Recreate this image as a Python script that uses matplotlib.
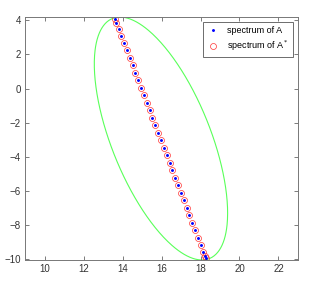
import numpy as np
import matplotlib
matplotlib.use("Agg")
import matplotlib.pyplot as plt

eig_re = [13.60, 13.68, 13.80, 13.93, 14.07, 14.22, 14.36, 14.51, 14.66, 14.80,
          14.95, 15.09, 15.24, 15.39, 15.53, 15.68, 15.83, 15.97, 16.12, 16.26,
          16.41, 16.56, 16.70, 16.85, 16.99, 17.14, 17.29, 17.43, 17.58, 17.72,
          17.87, 18.01, 18.14, 18.22, 18.27]
eig_im = [4.10, 3.85, 3.50, 3.10, 2.68, 2.24, 1.80, 1.36, 0.92, 0.48,
          0.04, -0.40, -0.84, -1.28, -1.72, -2.16, -2.60, -3.04, -3.48, -3.92,
          -4.36, -4.80, -5.24, -5.68, -6.12, -6.56, -7.00, -7.44, -7.88, -8.32,
          -8.76, -9.18, -9.56, -9.82, -9.96]

# green ellipse: centre and two conjugate half-axes
ell_center = (15.97, -2.93)
ell_u = (-2.10, 7.12)
ell_v = (2.70, 0.0)

xticks = [10, 12, 14, 16, 18, 20, 22]
yticks = [-10, -8, -6, -4, -2, 0, 2, 4]

plt.rcParams['font.family'] = ['Liberation Sans', 'DejaVu Sans']

fig = plt.figure(figsize=(3.18, 2.86), dpi=100)
ax = fig.add_axes([0.079, 0.091, 0.858, 0.850])

t = np.linspace(0, 2 * np.pi, 400)
ex = ell_center[0] + ell_u[0] * np.cos(t) + ell_v[0] * np.sin(t)
ey = ell_center[1] + ell_u[1] * np.cos(t) + ell_v[1] * np.sin(t)
ax.plot(ex, ey, color=(0.35, 1.0, 0.35), lw=0.8, zorder=1)

ax.plot(eig_re, eig_im, '.', color='blue', ms=2.2, label='spectrum of A', zorder=3)
ax.plot(eig_re, eig_im, 'o', mfc='none', mec='#ff3333', ms=4.3, mew=0.5,
        label='spectrum of A$^*$', zorder=2)

ax.set_xlim(9, 23)
ax.set_ylim(-10.05, 4.2)
ax.set_xticks(xticks)
ax.set_yticks(yticks)
ax.tick_params(direction='in', top=True, right=True, length=3, width=0.6,
               color='#666666', labelcolor='#333333', labelsize=7, pad=3)
for s in ax.spines.values():
    s.set_color('#777777')
    s.set_linewidth(0.7)

leg = ax.legend(loc='upper right', fontsize=6.5, fancybox=False, framealpha=1,
                edgecolor='#555555', handlelength=1.5, borderpad=0.4,
                labelspacing=0.4, handletextpad=0.8, borderaxespad=0.6)
leg.get_frame().set_linewidth(0.6)

fig.savefig('out.png', dpi=100)
